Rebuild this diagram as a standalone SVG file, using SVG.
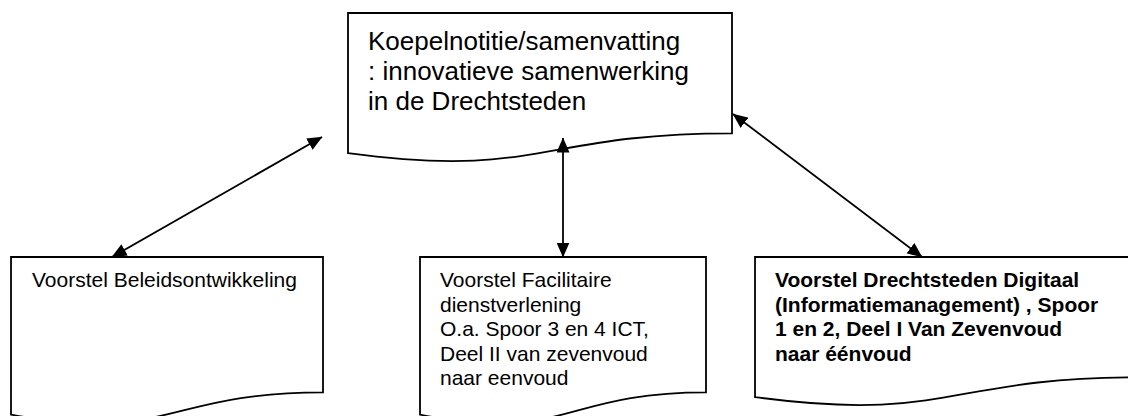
<svg xmlns="http://www.w3.org/2000/svg" width="1128" height="416" viewBox="0 0 1128 416">
  <style>
    .doc { fill: #ffffff; stroke: #000000; stroke-width: 1.8; stroke-linejoin: miter; }
    .t { font-family: "Liberation Sans", Arial, sans-serif; fill: #000000; }
    .big { font-size: 26px; }
    .small { font-size: 21px; }
    .bold { font-size: 21px; font-weight: bold; }
    .conn { stroke: #000000; stroke-width: 1.8; fill: none; marker-start: url(#ah); marker-end: url(#ah); }
  </style>
  <defs>
    <marker id="ah" viewBox="0 0 15 13" refX="14.5" refY="6.5" markerWidth="15" markerHeight="13" markerUnits="userSpaceOnUse" orient="auto-start-reverse">
      <path d="M0,0 L15,6.5 L0,13 Z" fill="#000000"/>
    </marker>
  </defs>
  <rect width="1128" height="416" fill="#ffffff"/>

  <g id="node-koepel">
    <path class="doc" d="M348,13 H732 V133.3 C540,133.3 540,179.1 348,153.1 Z"/>
    <text class="t big" x="368" y="50">Koepelnotitie/samenvatting</text>
    <text class="t big" x="368" y="80">: innovatieve samenwerking</text>
    <text class="t big" x="368" y="110">in de Drechtsteden</text>
  </g>

  <g id="node-beleid">
    <path class="doc" d="M11,257 H323 V392.3 C167,392.3 167,443.8 11,414.6 Z"/>
    <text class="t small" x="32" y="287">Voorstel Beleidsontwikkeling</text>
  </g>

  <g id="node-facilitair">
    <path class="doc" d="M420,257 H706 V392.3 C563,392.3 563,443.8 420,414.6 Z"/>
    <text class="t small" x="440" y="287">Voorstel Facilitaire</text>
    <text class="t small" x="440" y="311.5">dienstverlening</text>
    <text class="t small" x="440" y="336">O.a. Spoor 3 en 4 ICT,</text>
    <text class="t small" x="440" y="360.5">Deel II van zevenvoud</text>
    <text class="t small" x="440" y="385">naar eenvoud</text>
  </g>

  <g id="node-digitaal">
    <path class="doc" d="M755,257 H1139 V377.3 C947,377.3 947,423.1 755,397.1 Z"/>
    <text class="t bold" x="775" y="287">Voorstel Drechtsteden Digitaal</text>
    <text class="t bold" x="775" y="311.5">(Informatiemanagement) , Spoor</text>
    <text class="t bold" x="775" y="336">1 en 2, Deel I Van Zevenvoud</text>
    <text class="t bold" x="775" y="360.5">naar éénvoud</text>
  </g>

  <g id="connectors">
    <line class="conn" x1="322" y1="137" x2="112" y2="257"/>
    <line class="conn" x1="563" y1="138" x2="563" y2="257"/>
    <line class="conn" x1="733" y1="114" x2="922" y2="257"/>
  </g>
</svg>
